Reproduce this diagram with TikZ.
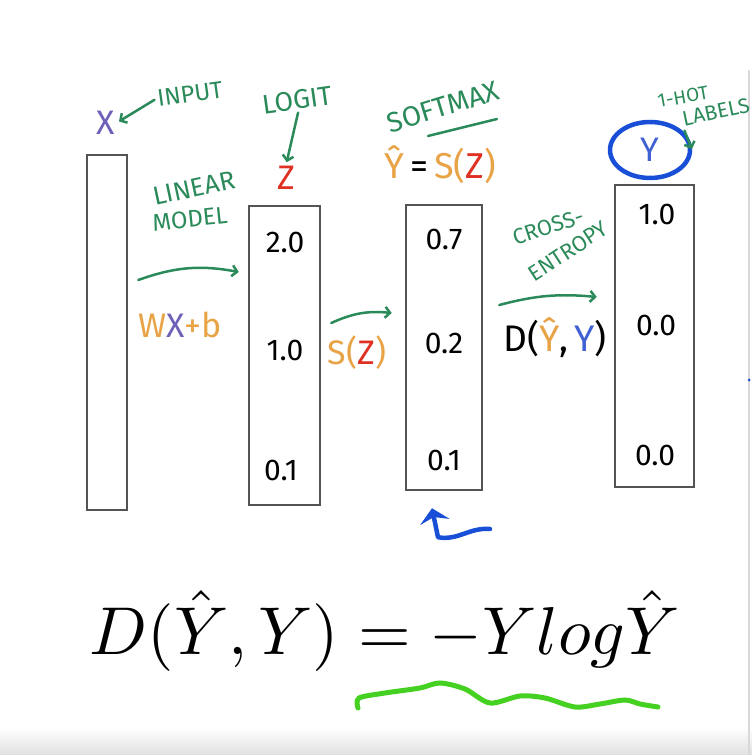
\documentclass[tikz,border=0pt]{standalone}
\usepackage{amsmath, amssymb}
\usepackage{graphicx}
\usepackage{fontspec}
\usepackage{tikz}
\usetikzlibrary{shapes.geometric, arrows, arrows.meta, positioning}
\newfontfamily\handfont{Fira Sans}
\definecolor{pengreen}{rgb}{0.170, 0.540, 0.350}
\definecolor{penorange}{rgb}{0.910, 0.640, 0.280}
\definecolor{penpurple}{rgb}{0.440, 0.380, 0.720}
\definecolor{penred}{rgb}{0.880, 0.190, 0.130}
\definecolor{penblue}{rgb}{0.250, 0.380, 0.820}
\definecolor{markblue}{rgb}{0.100, 0.310, 0.840}
\definecolor{markgreen}{rgb}{0.270, 0.820, 0.130}
\definecolor{boxgray}{rgb}{0.330, 0.330, 0.330}

\begin{document}
\begin{tikzpicture}[x=1pt, y=1pt, node distance=1.5cm, auto]
    \tikzstyle{vector} = [rectangle, draw=boxgray, line width=2.5pt, inner sep=0pt]
    \tikzstyle{value} = [font=\handfont\fontsize{30}{32}\selectfont, text=black]
    \tikzstyle{note} = [font=\handfont\fontsize{26}{28}\selectfont, text=pengreen, inner sep=1pt]
    \tikzstyle{small note} = [note, font=\handfont\fontsize{22}{24}\selectfont]
    \tikzstyle{symbol} = [font=\handfont\fontsize{34}{36}\selectfont, inner sep=1pt]
    \tikzstyle{arrow} = [pengreen, line width=2.5pt, line cap=round, -{Straight Barb[length=5pt, width=11pt]}]
    \tikzstyle{penmark} = [markblue, line width=4.5pt, line cap=round, line join=round]

    \useasboundingbox (0,0) rectangle (752,755);
    \shade [top color=white, bottom color=black!12] (0,0) rectangle (752,28);
    \draw [black!15, line width=2pt] (749,0) -- (749,685);
    \fill [markblue] (749,375) circle (1.5);

    % the four vectors
    \node [vector, minimum width=40, minimum height=355] (input) at (107,422.5) {};
    \node [vector, minimum width=71, minimum height=299] (logits) at (284.5,399.5) {};
    \node [vector, minimum width=76, minimum height=285] (probs) at (444,407.5) {};
    \node [vector, minimum width=79, minimum height=302] (labels) at (654.5,419) {};

    \node [value] (z1) at (285,512) {2.0};
    \node [value] (z2) at (285,405) {1.0};
    \node [value] (z3) at (281,285) {0.1};
    \node [value] (s1) at (444,515) {0.7};
    \node [value] (s2) at (444,412) {0.2};
    \node [value] (s3) at (444,295) {0.1};
    \node [value] (l1) at (657,540) {1.0};
    \node [value] (l2) at (656,430) {0.0};
    \node [value] (l3) at (655,300) {0.0};

    % names above the vectors
    \node [symbol, text=penpurple] (x) at (106,632) {X};
    \node [note, font=\handfont\fontsize{24}{26}\selectfont, rotate=8] (inputtxt) at (190,661) {INPUT};
    \node [note, font=\handfont\fontsize{27}{29}\selectfont, rotate=8] (logittxt) at (297,655) {LOGIT};
    \node [symbol, text=penred] (z) at (286,577) {Z};
    \node [note, font=\handfont\fontsize{28}{30}\selectfont, rotate=17] (softmaxtxt) at (443,648) {SOFTMAX};
    \node [symbol, font=\handfont\fontsize{36}{38}\selectfont] (yhat) at (440,590) {\textcolor{penorange}{Ŷ}\,=\,\textcolor{penorange}{S(}\textcolor{penred}{Z}\textcolor{penorange}{)}};
    \node [ellipse, draw=markblue, line width=4.5pt, minimum width=80, minimum height=56, symbol, text=penblue] (y) at (650,605) {Y};
    \node [small note, font=\handfont\fontsize{19}{21}\selectfont, rotate=10] (hottxt) at (683,658) {1-HOT};
    \node [small note, font=\handfont\fontsize{21}{23}\selectfont, rotate=12] (labeltxt) at (716,643) {LABELS};

    \draw [arrow, shorten <=2pt, shorten >=3pt] (inputtxt.west) -- (x.east);
    \draw [arrow, shorten <=2pt, shorten >=3pt] (logittxt.south) -- (z.north);
    \draw [arrow, shorten <=3pt, shorten >=1pt] (labeltxt.south west) -- (y.east);
    \draw [pengreen, line width=2.5pt, line cap=round] ([shift={(-15,-29)}]softmaxtxt.center) -- ([shift={(54,-12)}]softmaxtxt.center);

    % steps between the vectors
    \node [note, rotate=12] (lineartxt) at (194,567) {LINEAR};
    \node [note, font=\handfont\fontsize{24}{26}\selectfont, rotate=6] (modeltxt) at (190,536) {MODEL};
    \node [symbol, text=penorange] (wxb) at (180,430) {W\textcolor{penpurple}{X}+b};
    \node [symbol, text=penorange] (sz) at (357,402) {S(\textcolor{penred}{Z})};
    \node [small note, rotate=18] (crosstxt) at (548,528) {CROSS-};
    \node [small note, rotate=33] (entropytxt) at (568,504) {ENTROPY};
    \node [symbol, font=\handfont\fontsize{37}{39}\selectfont] (dist) at (555,417) {D(\textcolor{penorange}{Ŷ},\,\textcolor{penblue}{Y})};

    \draw [arrow] ([shift={(10,52.5)}]input.east) to[bend left=15] ([shift={(-9,83.5)}]logits.west);
    \draw [arrow] ([shift={(10,32.5)}]logits.east) to[bend left=15] ([shift={(-13,34.5)}]probs.west);
    \draw [arrow] ([shift={(16,42.5)}]probs.east) to[bend left=10] ([shift={(-17,39)}]labels.west);

    \coordinate (hook) at (490,226);
    \draw [penmark, -{Stealth[length=14pt, width=30pt, inset=5pt]}] (hook) to[out=175, in=-10] ([shift={(-6,-46)}]probs.south) -- ([shift={(-12,-17)}]probs.south);

    % the loss
    \node (loss) at (385,124) {\resizebox{590pt}{!}{$D(\hat{Y},Y) = -Y log\hat{Y}$}};
    \draw [markgreen, line width=5pt, line cap=round] plot[smooth] coordinates {(358,47) (359,57) (385,62) (420,67) (440,72) (465,66) (490,52) (520,59) (545,57) (575,48) (600,51) (625,55) (640,51) (658,48)};
\end{tikzpicture}
\end{document}
